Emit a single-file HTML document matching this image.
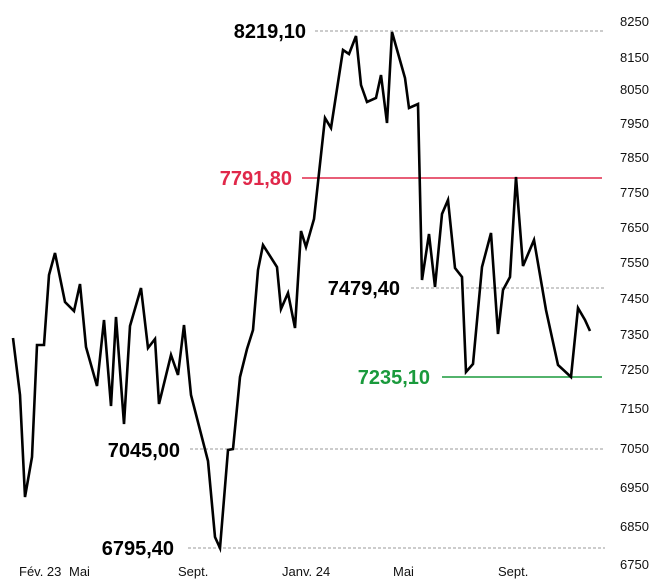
<!DOCTYPE html>
<html><head><meta charset="utf-8"><style>
body{margin:0;background:#fff}
svg{display:block}
text{font-family:"Liberation Sans",sans-serif}
</style></head><body>
<svg width="665" height="585" viewBox="0 0 665 585" xmlns="http://www.w3.org/2000/svg">
<g stroke="#999" stroke-width="1" stroke-dasharray="3,2">
<line x1="315" y1="31" x2="605" y2="31"/>
<line x1="411" y1="288" x2="605" y2="288"/>
<line x1="190" y1="449" x2="605" y2="449"/>
<line x1="188" y1="548" x2="605" y2="548"/>
</g>
<line x1="302" y1="178" x2="602" y2="178" stroke="#e0284a" stroke-width="1.5"/>
<line x1="442" y1="377" x2="602" y2="377" stroke="#1a9a3c" stroke-width="1.5"/>
<polyline fill="none" stroke="#000" stroke-width="2.6" stroke-linejoin="miter" points="13,338 20,395 25,497 32,457 37,345 44,345 49,275 55,253 65,302 74,311 80,284 86,347 97,386 104,320 111,406 116,317 124,424 130,326 141,288 148,348 155,339 159,404 171,355 178,375 184,325 191,395 208,461 215,537 220,548 228,450 233,449 240,377 247,349 253,330 258,270 263,245 277,267 281,309 288,293 295,328 301,231 306,247 314,219 325,118 331,128 343,50 349,54 356,36 361,85 367,102 376,98 381,75 387,123 392,32 405,78 409,108 418,104 422,280 429,234 435,287 442,214 448,200 455,268 462,277 466,372 473,364 482,267 491,233 498,334 503,290 510,277 516,177 523,266 534,240 546,310 558,365 571,377 578,308 585,320 590,331"/>
<g font-size="20" text-anchor="end" font-weight="bold">
<text x="306" y="38" fill="#000">8219,10</text>
<text x="292" y="185" fill="#e0284a">7791,80</text>
<text x="400" y="295" fill="#000">7479,40</text>
<text x="430" y="384" fill="#1a9a3c">7235,10</text>
<text x="180" y="457" fill="#000">7045,00</text>
<text x="174" y="555" fill="#000">6795,40</text>
</g>
<g font-size="13" fill="#111">
<text x="620" y="26">8250</text><text x="620" y="62">8150</text><text x="620" y="94">8050</text>
<text x="620" y="128">7950</text><text x="620" y="162">7850</text><text x="620" y="197">7750</text>
<text x="620" y="232">7650</text><text x="620" y="267">7550</text><text x="620" y="303">7450</text>
<text x="620" y="339">7350</text><text x="620" y="374">7250</text><text x="620" y="413">7150</text>
<text x="620" y="453">7050</text><text x="620" y="492">6950</text><text x="620" y="531">6850</text>
<text x="620" y="569">6750</text>
</g>
<g font-size="13" fill="#111">
<text x="19" y="576">Fév. 23</text><text x="69" y="576">Mai</text>
<text x="178" y="576">Sept.</text><text x="282" y="576">Janv. 24</text>
<text x="393" y="576">Mai</text><text x="498" y="576">Sept.</text>
</g>
</svg>
</body></html>
